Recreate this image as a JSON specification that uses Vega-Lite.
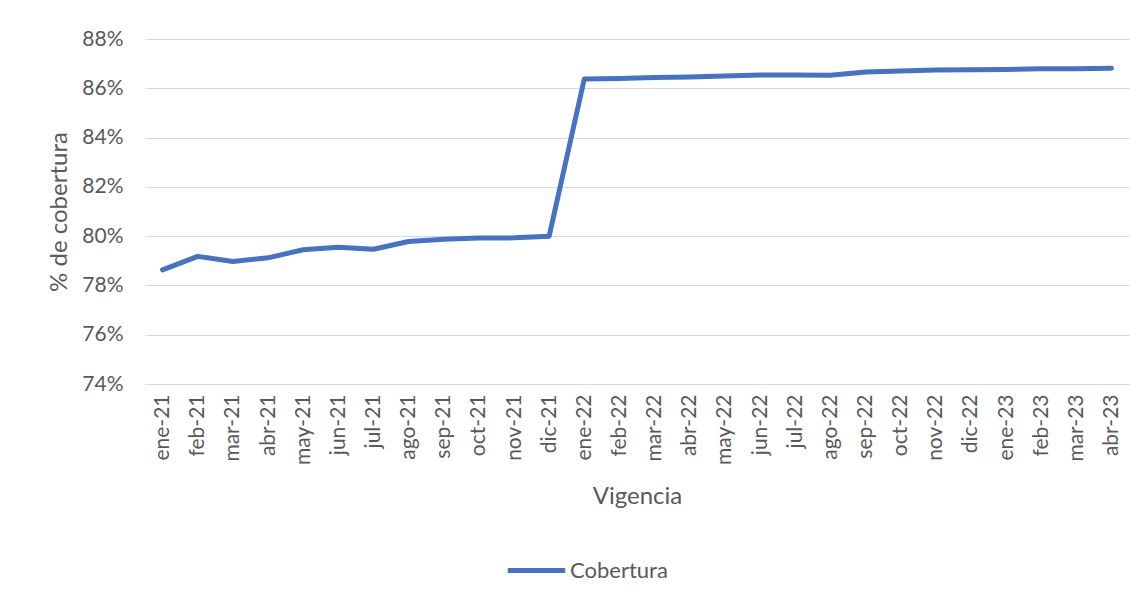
{
  "$schema": "https://vega.github.io/schema/vega-lite/v6.json",
  "width": 984,
  "height": 345,
  "autosize": {"type": "none"},
  "padding": {"left": 145, "top": 39, "right": 18, "bottom": 214},
  "background": "white",
  "config": {
    "view": {"stroke": null},
    "font": "Lato"
  },
  "data": {
    "values": [
      {"mes": "ene-21", "Cobertura": 0.7863, "serie": "Cobertura"},
      {"mes": "feb-21", "Cobertura": 0.7918, "serie": "Cobertura"},
      {"mes": "mar-21", "Cobertura": 0.7897, "serie": "Cobertura"},
      {"mes": "abr-21", "Cobertura": 0.7912, "serie": "Cobertura"},
      {"mes": "may-21", "Cobertura": 0.7945, "serie": "Cobertura"},
      {"mes": "jun-21", "Cobertura": 0.7955, "serie": "Cobertura"},
      {"mes": "jul-21", "Cobertura": 0.7947, "serie": "Cobertura"},
      {"mes": "ago-21", "Cobertura": 0.7978, "serie": "Cobertura"},
      {"mes": "sep-21", "Cobertura": 0.7987, "serie": "Cobertura"},
      {"mes": "oct-21", "Cobertura": 0.7992, "serie": "Cobertura"},
      {"mes": "nov-21", "Cobertura": 0.7993, "serie": "Cobertura"},
      {"mes": "dic-21", "Cobertura": 0.8000, "serie": "Cobertura"},
      {"mes": "ene-22", "Cobertura": 0.8638, "serie": "Cobertura"},
      {"mes": "feb-22", "Cobertura": 0.8640, "serie": "Cobertura"},
      {"mes": "mar-22", "Cobertura": 0.8644, "serie": "Cobertura"},
      {"mes": "abr-22", "Cobertura": 0.8646, "serie": "Cobertura"},
      {"mes": "may-22", "Cobertura": 0.8650, "serie": "Cobertura"},
      {"mes": "jun-22", "Cobertura": 0.8654, "serie": "Cobertura"},
      {"mes": "jul-22", "Cobertura": 0.8654, "serie": "Cobertura"},
      {"mes": "ago-22", "Cobertura": 0.8653, "serie": "Cobertura"},
      {"mes": "sep-22", "Cobertura": 0.8666, "serie": "Cobertura"},
      {"mes": "oct-22", "Cobertura": 0.8670, "serie": "Cobertura"},
      {"mes": "nov-22", "Cobertura": 0.8674, "serie": "Cobertura"},
      {"mes": "dic-22", "Cobertura": 0.8675, "serie": "Cobertura"},
      {"mes": "ene-23", "Cobertura": 0.8676, "serie": "Cobertura"},
      {"mes": "feb-23", "Cobertura": 0.8679, "serie": "Cobertura"},
      {"mes": "mar-23", "Cobertura": 0.8679, "serie": "Cobertura"},
      {"mes": "abr-23", "Cobertura": 0.8681, "serie": "Cobertura"}
    ]
  },
  "mark": {"type": "line", "strokeWidth": 5, "strokeCap": "round", "strokeJoin": "round"},
  "encoding": {
    "x": {
      "field": "mes",
      "type": "ordinal",
      "sort": null,
      "scale": {"type": "point", "padding": 0.5},
      "axis": {
        "title": "Vigencia",
        "titleFont": "Lato",
        "titleFontSize": 24,
        "titleFontWeight": "normal",
        "titleColor": "#595959",
        "titlePadding": 20,
        "labelAngle": -90,
        "labelFontSize": 21,
        "labelColor": "#595959",
        "labelPadding": 10,
        "ticks": false,
        "domainColor": "#d9d9d9",
        "domainWidth": 1,
        "grid": false
      }
    },
    "y": {
      "field": "Cobertura",
      "type": "quantitative",
      "scale": {"domain": [0.74, 0.88], "nice": false, "zero": false},
      "axis": {
        "title": "% de cobertura",
        "titleFont": "Lato",
        "titleFontSize": 24,
        "titleFontWeight": "normal",
        "titleColor": "#595959",
        "titlePadding": 10,
        "values": [0.74, 0.76, 0.78, 0.80, 0.82, 0.84, 0.86, 0.88],
        "format": ".0%",
        "labelFontSize": 21,
        "labelColor": "#595959",
        "labelPadding": 22,
        "ticks": false,
        "domain": false,
        "grid": true,
        "gridColor": "#d9d9d9",
        "gridWidth": 1
      }
    },
    "color": {
      "field": "serie",
      "type": "nominal",
      "scale": {"range": ["#4472C4"]},
      "legend": {
        "title": null,
        "orient": "none",
        "legendX": 360,
        "legendY": 500,
        "symbolType": "stroke",
        "symbolSize": 3300,
        "symbolStrokeWidth": 5,
        "labelFontSize": 22,
        "labelColor": "#595959",
        "labelOffset": 2
      }
    }
  }
}
